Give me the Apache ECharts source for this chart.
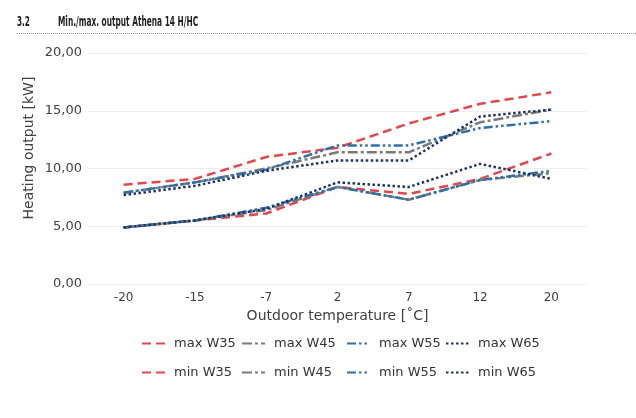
<!DOCTYPE html>
<html>
<head>
<meta charset="utf-8">
<script src="https://cdn.jsdelivr.net/npm/echarts@6/dist/echarts.min.js"></script>
<style>
html,body{margin:0;padding:0;background:#fff;}
#chart{width:636px;height:418px;}
</style>
</head>
<body>
<div id="chart"></div>
<script>
var categories = ['-20', '-15', '-7', '2', '7', '12', '20'];
var yTicks = [0, 5, 10, 15, 20];

var maxW35 = [8.6, 9.1, 11.0, 11.8, 13.9, 15.6, 16.6];
var maxW45 = [7.9, 8.8, 10.0, 11.4, 11.4, 14.0, 15.1];
var maxW55 = [7.9, 8.8, 9.9, 12.0, 12.0, 13.5, 14.1];
var maxW65 = [7.7, 8.5, 9.8, 10.7, 10.7, 14.5, 15.1];
var minW35 = [4.9, 5.5, 6.1, 8.4, 7.8, 9.1, 11.3];
var minW45 = [4.9, 5.5, 6.4, 8.4, 7.3, 9.0, 9.6];
var minW55 = [4.9, 5.5, 6.6, 8.4, 7.3, 9.0, 9.8];
var minW65 = [4.9, 5.5, 6.5, 8.8, 8.4, 10.4, 9.1];

var RED = '#E2474B', GREY = '#7A7A7A', BLUE = '#2F6FA8', NAVY = '#1F3560';
var styles = {
  W35: {color: RED, type: [9, 5]},
  W45: {color: GREY, type: [10, 3, 3, 3]},
  W55: {color: BLUE, type: [9, 3, 2.5, 3, 2.5, 3]},
  W65: {color: NAVY, type: [2.5, 2.5]}
};

function mk(name, data, key) {
  var s = styles[key];
  return {
    name: name, type: 'line', data: data, symbol: 'none', smooth: false,
    lineStyle: {color: s.color, width: 2.5, type: s.type},
    itemStyle: {color: s.color},
    z: 2
  };
}

var series = [
  mk('max W35', maxW35, 'W35'),
  mk('max W45', maxW45, 'W45'),
  mk('max W55', maxW55, 'W55'),
  mk('max W65', maxW65, 'W65'),
  mk('min W35', minW35, 'W35'),
  mk('min W45', minW45, 'W45'),
  mk('min W55', minW55, 'W55'),
  mk('min W65', minW65, 'W65')
];

var legendPos = [
  ['max W35', 136, 332], ['max W45', 236, 332], ['max W55', 341, 332], ['max W65', 440, 332],
  ['min W35', 136, 361], ['min W45', 236, 361], ['min W55', 341, 361], ['min W65', 440, 361]
];
var legends = legendPos.map(function (p) {
  return {
    data: [p[0]], left: p[1], top: p[2], itemWidth: 23, itemHeight: 14, itemGap: 0,
    itemStyle: {opacity: 0},
    textStyle: {fontFamily: 'DejaVu Sans', fontSize: 13, color: '#333', padding: [0, 0, 0, 4]},
    selectedMode: false
  };
});

var headFont = 'bold 13.5px "DejaVu Sans Condensed", "DejaVu Sans", sans-serif';

var chart = echarts.init(document.getElementById('chart'), null, {renderer: 'canvas'});
chart.setOption({
  animation: false,
  backgroundColor: '#fff',
  grid: {left: 88, right: 49, top: 53, bottom: 134},
  legend: legends,
  xAxis: {
    type: 'category', data: categories, boundaryGap: true,
    name: 'Outdoor temperature [˚C]', nameLocation: 'middle', nameGap: 20,
    nameTextStyle: {fontFamily: 'DejaVu Sans', fontSize: 14, color: '#404040'},
    axisLine: {lineStyle: {color: '#EEEEEE'}},
    axisTick: {show: false},
    axisLabel: {fontFamily: 'DejaVu Sans', fontSize: 12, color: '#404040', margin: 8}
  },
  yAxis: {
    type: 'value', min: yTicks[0], max: yTicks[yTicks.length - 1], interval: 5,
    axisLine: {show: false}, axisTick: {show: false},
    splitLine: {lineStyle: {color: '#EEEEEE', width: 1}},
    axisLabel: {
      fontFamily: 'DejaVu Sans', fontSize: 13, color: '#404040', margin: 6,
      formatter: function (v) { return v.toFixed(2).replace('.', ','); }
    }
  },
  graphic: [
    {type: 'text', x: 17, y: 15, scaleX: 0.6, style: {text: '3.2', font: headFont, fill: '#222'}},
    {type: 'text', x: 58, y: 15, scaleX: 0.61, style: {text: 'Min./max. output Athena 14 H/HC', font: headFont, fill: '#222'}},
    {type: 'line', shape: {x1: 17, y1: 33.5, x2: 636, y2: 33.5}, style: {stroke: '#999', lineWidth: 1, lineDash: [1, 1]}},
    {type: 'text', x: 29, y: 148, rotation: Math.PI / 2, style: {text: 'Heating output [kW]', font: '14px "DejaVu Sans"', fill: '#404040', align: 'center', verticalAlign: 'middle'}}
  ],
  series: series
});
</script>
</body>
</html>
